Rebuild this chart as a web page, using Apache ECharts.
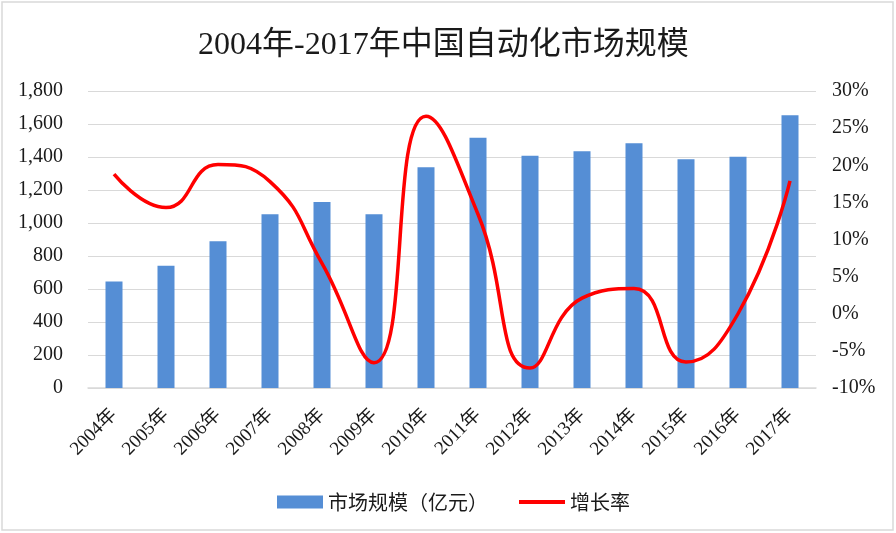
<!DOCTYPE html>
<html>
<head>
<meta charset="utf-8">
<script src="https://cdn.jsdelivr.net/npm/echarts@6/dist/echarts.min.js"></script>
<style>
html,body{margin:0;padding:0;background:#fff;}
#chart{width:896px;height:533px;}
</style>
</head>
<body>
<div id="chart"></div>
<script>
const categories = ['2004年','2005年','2006年','2007年','2008年','2009年','2010年','2011年','2012年','2013年','2014年','2015年','2016年','2017年'];
const marketSize = [646, 741, 890, 1053, 1128, 1053, 1338, 1516, 1407, 1435, 1483, 1386, 1401, 1653];
const growthRate = [18.8, 14.3, 20.1, 17.8, 6.8, -6.6, 26.6, 13.4, -7.3, 2.1, 3.4, -6.5, 0.0, 17.9];
const leftTicks = {min: 0, max: 1800, interval: 200};
const rightTicks = {min: -10, max: 30, interval: 5};

const serif = '"Liberation Serif","Times New Roman","Noto Sans CJK SC",serif';
const cjk = '"Noto Sans CJK SC",sans-serif';

const chart = echarts.init(document.getElementById('chart'), null, {renderer: 'canvas'});
chart.setOption({
  animation: false,
  backgroundColor: '#fff',
  title: {
    text: '2004年-2017年中国自动化市场规模',
    left: 193, top: 25,
    textStyle: {fontFamily: serif, fontSize: 32, fontWeight: 'normal', color: '#1a1a1a'}
  },
  graphic: [{
    type: 'rect', shape: {x: 2, y: 2, width: 891, height: 528},
    style: {fill: 'none', stroke: '#d9d9d9', lineWidth: 1.5}, silent: true, z: -1
  }],
  legend: [{
    left: 272, top: 487,
    itemWidth: 46, itemHeight: 13,
    textStyle: {fontFamily: cjk, fontSize: 20, color: '#1a1a1a'},
    data: [{name: '市场规模（亿元）', icon: 'rect'}]
  }, {
    left: 514, top: 487,
    itemWidth: 46, itemHeight: 4, icon: 'rect',
    textStyle: {fontFamily: cjk, fontSize: 20, color: '#1a1a1a'},
    data: [{name: '增长率', icon: 'rect'}]
  }],
  grid: {left: 88, right: 80, top: 91, bottom: 145},
  xAxis: {
    type: 'category',
    data: categories,
    axisTick: {show: false},
    axisLine: {lineStyle: {color: '#d9d9d9', width: 1.5}},
    axisLabel: {rotate: 45, fontFamily: serif, fontSize: 19, color: '#1a1a1a', margin: 24, interval: 0}
  },
  yAxis: [{
    type: 'value', min: leftTicks.min, max: leftTicks.max, interval: leftTicks.interval,
    axisLine: {show: false}, axisTick: {show: false},
    splitLine: {lineStyle: {color: '#d9d9d9', width: 1.2}},
    axisLabel: {
      fontFamily: serif, fontSize: 20, color: '#1a1a1a', margin: 25,
      formatter: v => v.toLocaleString('en-US')
    }
  }, {
    type: 'value', min: rightTicks.min, max: rightTicks.max, interval: rightTicks.interval,
    axisLine: {show: false}, axisTick: {show: false}, splitLine: {show: false},
    axisLabel: {fontFamily: serif, fontSize: 20, color: '#1a1a1a', margin: 16, formatter: '{value}%'}
  }],
  series: [{
    name: '市场规模（亿元）',
    type: 'bar',
    data: marketSize,
    barWidth: 17,
    itemStyle: {color: '#558ED5'}
  }, {
    name: '增长率',
    type: 'line',
    yAxisIndex: 1,
    data: growthRate,
    smooth: 0.5,
    symbol: 'none',
    lineStyle: {color: '#ff0000', width: 3.5},
    itemStyle: {color: '#ff0000'}
  }]
});
</script>
</body>
</html>
